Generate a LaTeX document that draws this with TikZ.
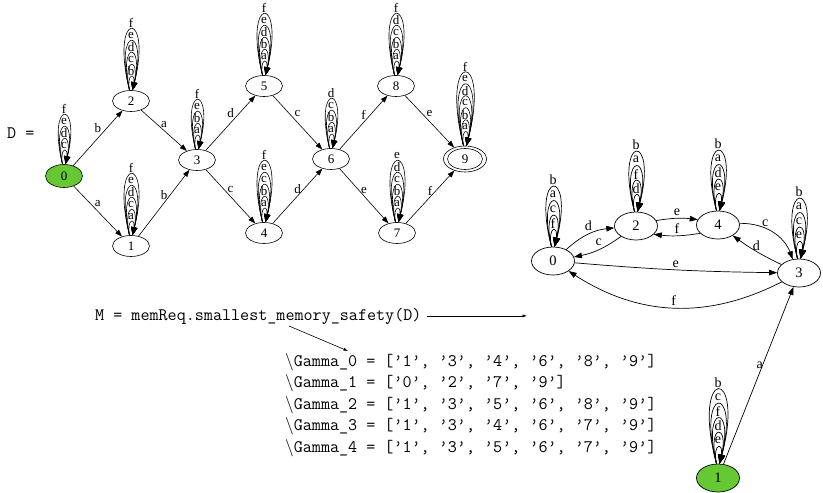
\documentclass[tikz,border=0pt]{standalone}
\usepackage{fontspec}
\setmonofont{Latin Modern Mono}
\newfontfamily\gvfont{Liberation Serif}
\usetikzlibrary{arrows.meta,shapes.geometric,calc}
\definecolor{nodegreen}{RGB}{102,200,51}
\tikzset{
  gnode/.style={ellipse, draw, line width=0.6pt, inner sep=0pt, minimum width=37pt, minimum height=21pt, font=\gvfont\fontsize{13}{13}\selectfont},
  rnode/.style={ellipse, draw, line width=0.7pt, inner sep=0pt, minimum width=43pt, minimum height=28pt, font=\gvfont\fontsize{14.5}{14.5}\selectfont},
  ledge/.style={line width=0.6pt, -{Triangle[length=7pt,width=5pt]}},
  redge/.style={line width=0.7pt, -{Triangle[length=8pt,width=5.6pt]}},
  lloop/.style={line width=0.6pt, -{Triangle[length=8pt,width=6pt]}},
  rloop/.style={line width=0.7pt, -{Triangle[length=9pt,width=7pt]}},
  llab/.style={font=\gvfont\fontsize{13}{13}\selectfont, inner sep=0pt},
  rlab/.style={font=\gvfont\fontsize{14}{14}\selectfont, inner sep=0pt},
  code/.style={font=\ttfamily\fontsize{17.6}{21.6}\selectfont, inner sep=0pt, anchor=base west},
  thinarrow/.style={line width=0.6pt, -{Latex[length=4.5pt,width=3.2pt]}}
}
% #1 node, #2 labels inner->outer, #3 spacing, #4 top offset, #5 label offset,
% #6 width slope, #7 loop style, #8 label style
\newcommand\gvloops[8]{%
  \foreach \lab [count=\i] in {#2} {%
    \pgfmathsetmacro\lpT{#3*\i+#4}%
    \pgfmathsetmacro\lpC{\lpT*4/3}%
    \pgfmathsetmacro\lpW{max(0.5,(#6*\i+0.8-0.72)/0.289)}%
    \pgfmathsetmacro\lpL{\lpT+#5}%
    \draw[#7] ($(#1.north)+(-1.5,0)$) .. controls ($(#1.north)+(-\lpW,-\lpC)$) and ($(#1.north)+(\lpW,-\lpC)$) .. ($(#1.north)+(1.5,0)$);%
    \node[#8] (#1-loop\i) at ($(#1.north)+(0,-\lpL)$) {\lab};%
  }}
\begin{document}
\begin{tikzpicture}[x=1pt,y=-1pt]
\useasboundingbox (0,0) rectangle (823,493);

% ---------- left automaton D ----------
\node[gnode, fill=nodegreen, minimum height=23pt] (L0) at (64,176) {0};
\node[gnode] (L2) at (131,101) {2};
\node[gnode] (L1) at (131,246) {1};
\node[gnode] (L3) at (197,160) {3};
\node[gnode] (L5) at (264,86) {5};
\node[gnode] (L4) at (264,233) {4};
\node[gnode] (L6) at (331,159) {6};
\node[gnode] (L8) at (396,86) {8};
\node[gnode] (L7) at (397,233) {7};
\node[gnode, minimum width=43pt, minimum height=26pt] (L9) at (465,159) {9};
\draw[line width=0.6pt] (L9.center) ellipse [x radius=17.5pt, y radius=10.5pt];

\draw[ledge] (L0) -- node[llab, midway, yshift=10pt] {b} (L2);
\draw[ledge] (L0) -- node[llab, midway, yshift=7.5pt] {a} (L1);
\draw[ledge] (L2) -- node[llab, midway, yshift=5.5pt] {a} (L3);
\draw[ledge] (L1) -- node[llab, midway, yshift=8pt] {b} (L3);
\draw[ledge] (L3) -- node[llab, midway, yshift=9.5pt] {d} (L5);
\draw[ledge] (L3) -- node[llab, midway, yshift=7pt] {c} (L4);
\draw[ledge] (L5) -- node[llab, midway, yshift=9pt] {c} (L6);
\draw[ledge] (L4) -- node[llab, midway, yshift=6.5pt] {d} (L6);
\draw[ledge] (L6) -- node[llab, midway, yshift=8pt] {f} (L8);
\draw[ledge] (L6) -- node[llab, midway, yshift=6pt] {e} (L7);
\draw[ledge] (L8) -- node[llab, midway, yshift=8pt] {e} (L9);
\draw[ledge] (L7) -- node[llab, midway, yshift=6.5pt] {f} (L9);

\gvloops{L0}{c,d,e,f}{12}{1}{6}{1.25}{lloop}{llab}
\gvloops{L2}{b,c,d,e,f}{12}{1}{6}{1.25}{lloop}{llab}
\gvloops{L1}{a,c,d,e,f}{12}{1}{6}{1.25}{lloop}{llab}
\gvloops{L3}{a,b,e,f}{12}{1}{6}{1.25}{lloop}{llab}
\gvloops{L5}{a,b,d,e,f}{12}{1}{6}{1.25}{lloop}{llab}
\gvloops{L4}{a,b,c,e,f}{12}{1}{6}{1.25}{lloop}{llab}
\gvloops{L6}{a,b,c,d}{12}{1}{6}{1.25}{lloop}{llab}
\gvloops{L8}{a,b,c,d,f}{12}{1}{6}{1.25}{lloop}{llab}
\gvloops{L7}{a,b,c,d,e}{12}{1}{6}{1.25}{lloop}{llab}
\gvloops{L9}{a,b,c,d,e,f}{12}{1}{6}{1.25}{lloop}{llab}

% ---------- right automaton M ----------
\node[rnode] (R0) at (553,261) {0};
\node[rnode] (R2) at (636,226) {2};
\node[rnode] (R4) at (718,225) {4};
\node[rnode] (R3) at (799,273) {3};
\node[rnode, fill=nodegreen] (R1) at (718,478) {1};

\draw[redge] (R0) to[bend left=18] node[rlab, midway, yshift=9pt] {d} (R2);
\draw[redge] (R2) to[bend left=12] node[rlab, midway, yshift=7pt] {c} (R0);
\draw[redge] (R2.15) to[bend left=8] node[rlab, midway, yshift=6pt] {e} (R4.165);
\draw[redge] (R4.205) to[bend left=8] node[rlab, midway, yshift=7pt] {f} (R2.-25);
\draw[redge] (R4) to[bend left=35] node[rlab, midway, xshift=-7pt, yshift=9pt] {c} (R3);
\draw[redge] (R3) to[bend left=5] node[rlab, midway, yshift=6pt] {d} (R4);
\draw[redge] (R0) to[bend right=2] node[rlab, midway, yshift=6pt] {e} (R3);
\draw[redge] (R3) to[bend left=30] node[rlab, midway, yshift=7pt] {f} (R0);
\draw[redge] (R1) -- node[rlab, pos=0.56, xshift=-3pt] {a} (R3);

\gvloops{R0}{f,c,a,b}{14.5}{1.5}{7}{1.6}{rloop}{rlab}
\gvloops{R2}{d,f,a,b}{14.5}{1.5}{7}{1.6}{rloop}{rlab}
\gvloops{R4}{e,d,a,b}{14.5}{1.5}{7}{1.6}{rloop}{rlab}
\gvloops{R3}{e,c,a,b}{14.5}{1.5}{7}{1.6}{rloop}{rlab}
\gvloops{R1}{e,d,f,c,b}{14.5}{1.5}{7}{1.6}{rloop}{rlab}

% ---------- code text ----------
\node[code] (D) at (7,138) {D =};
\node[code] (M) at (95,320) {M = memReq.smallest\_memory\_safety(D)};
\node[code] (G0) at (285,366.0) {$\backslash$Gamma\_0 = [’1’, ’3’, ’4’, ’6’, ’8’, ’9’]};
\node[code] (G1) at (285,387.6) {$\backslash$Gamma\_1 = [’0’, ’2’, ’7’, ’9’]};
\node[code] (G2) at (285,409.2) {$\backslash$Gamma\_2 = [’1’, ’3’, ’5’, ’6’, ’8’, ’9’]};
\node[code] (G3) at (285,430.8) {$\backslash$Gamma\_3 = [’1’, ’3’, ’4’, ’6’, ’7’, ’9’]};
\node[code] (G4) at (285,452.4) {$\backslash$Gamma\_4 = [’1’, ’3’, ’5’, ’6’, ’7’, ’9’]};

\coordinate (Mstart) at ($(M.east)+(5,0)$);
\coordinate (Mend) at (527,0);
\draw[thinarrow] (Mstart) -- (Mend |- Mstart);
\coordinate (Mdown) at ($(M.base west)+(194,6)$);
\coordinate (Gtop) at ($(G0.base west)+(63,-15)$);
\draw[thinarrow] (Mdown) -- (Gtop);
\end{tikzpicture}
\end{document}
